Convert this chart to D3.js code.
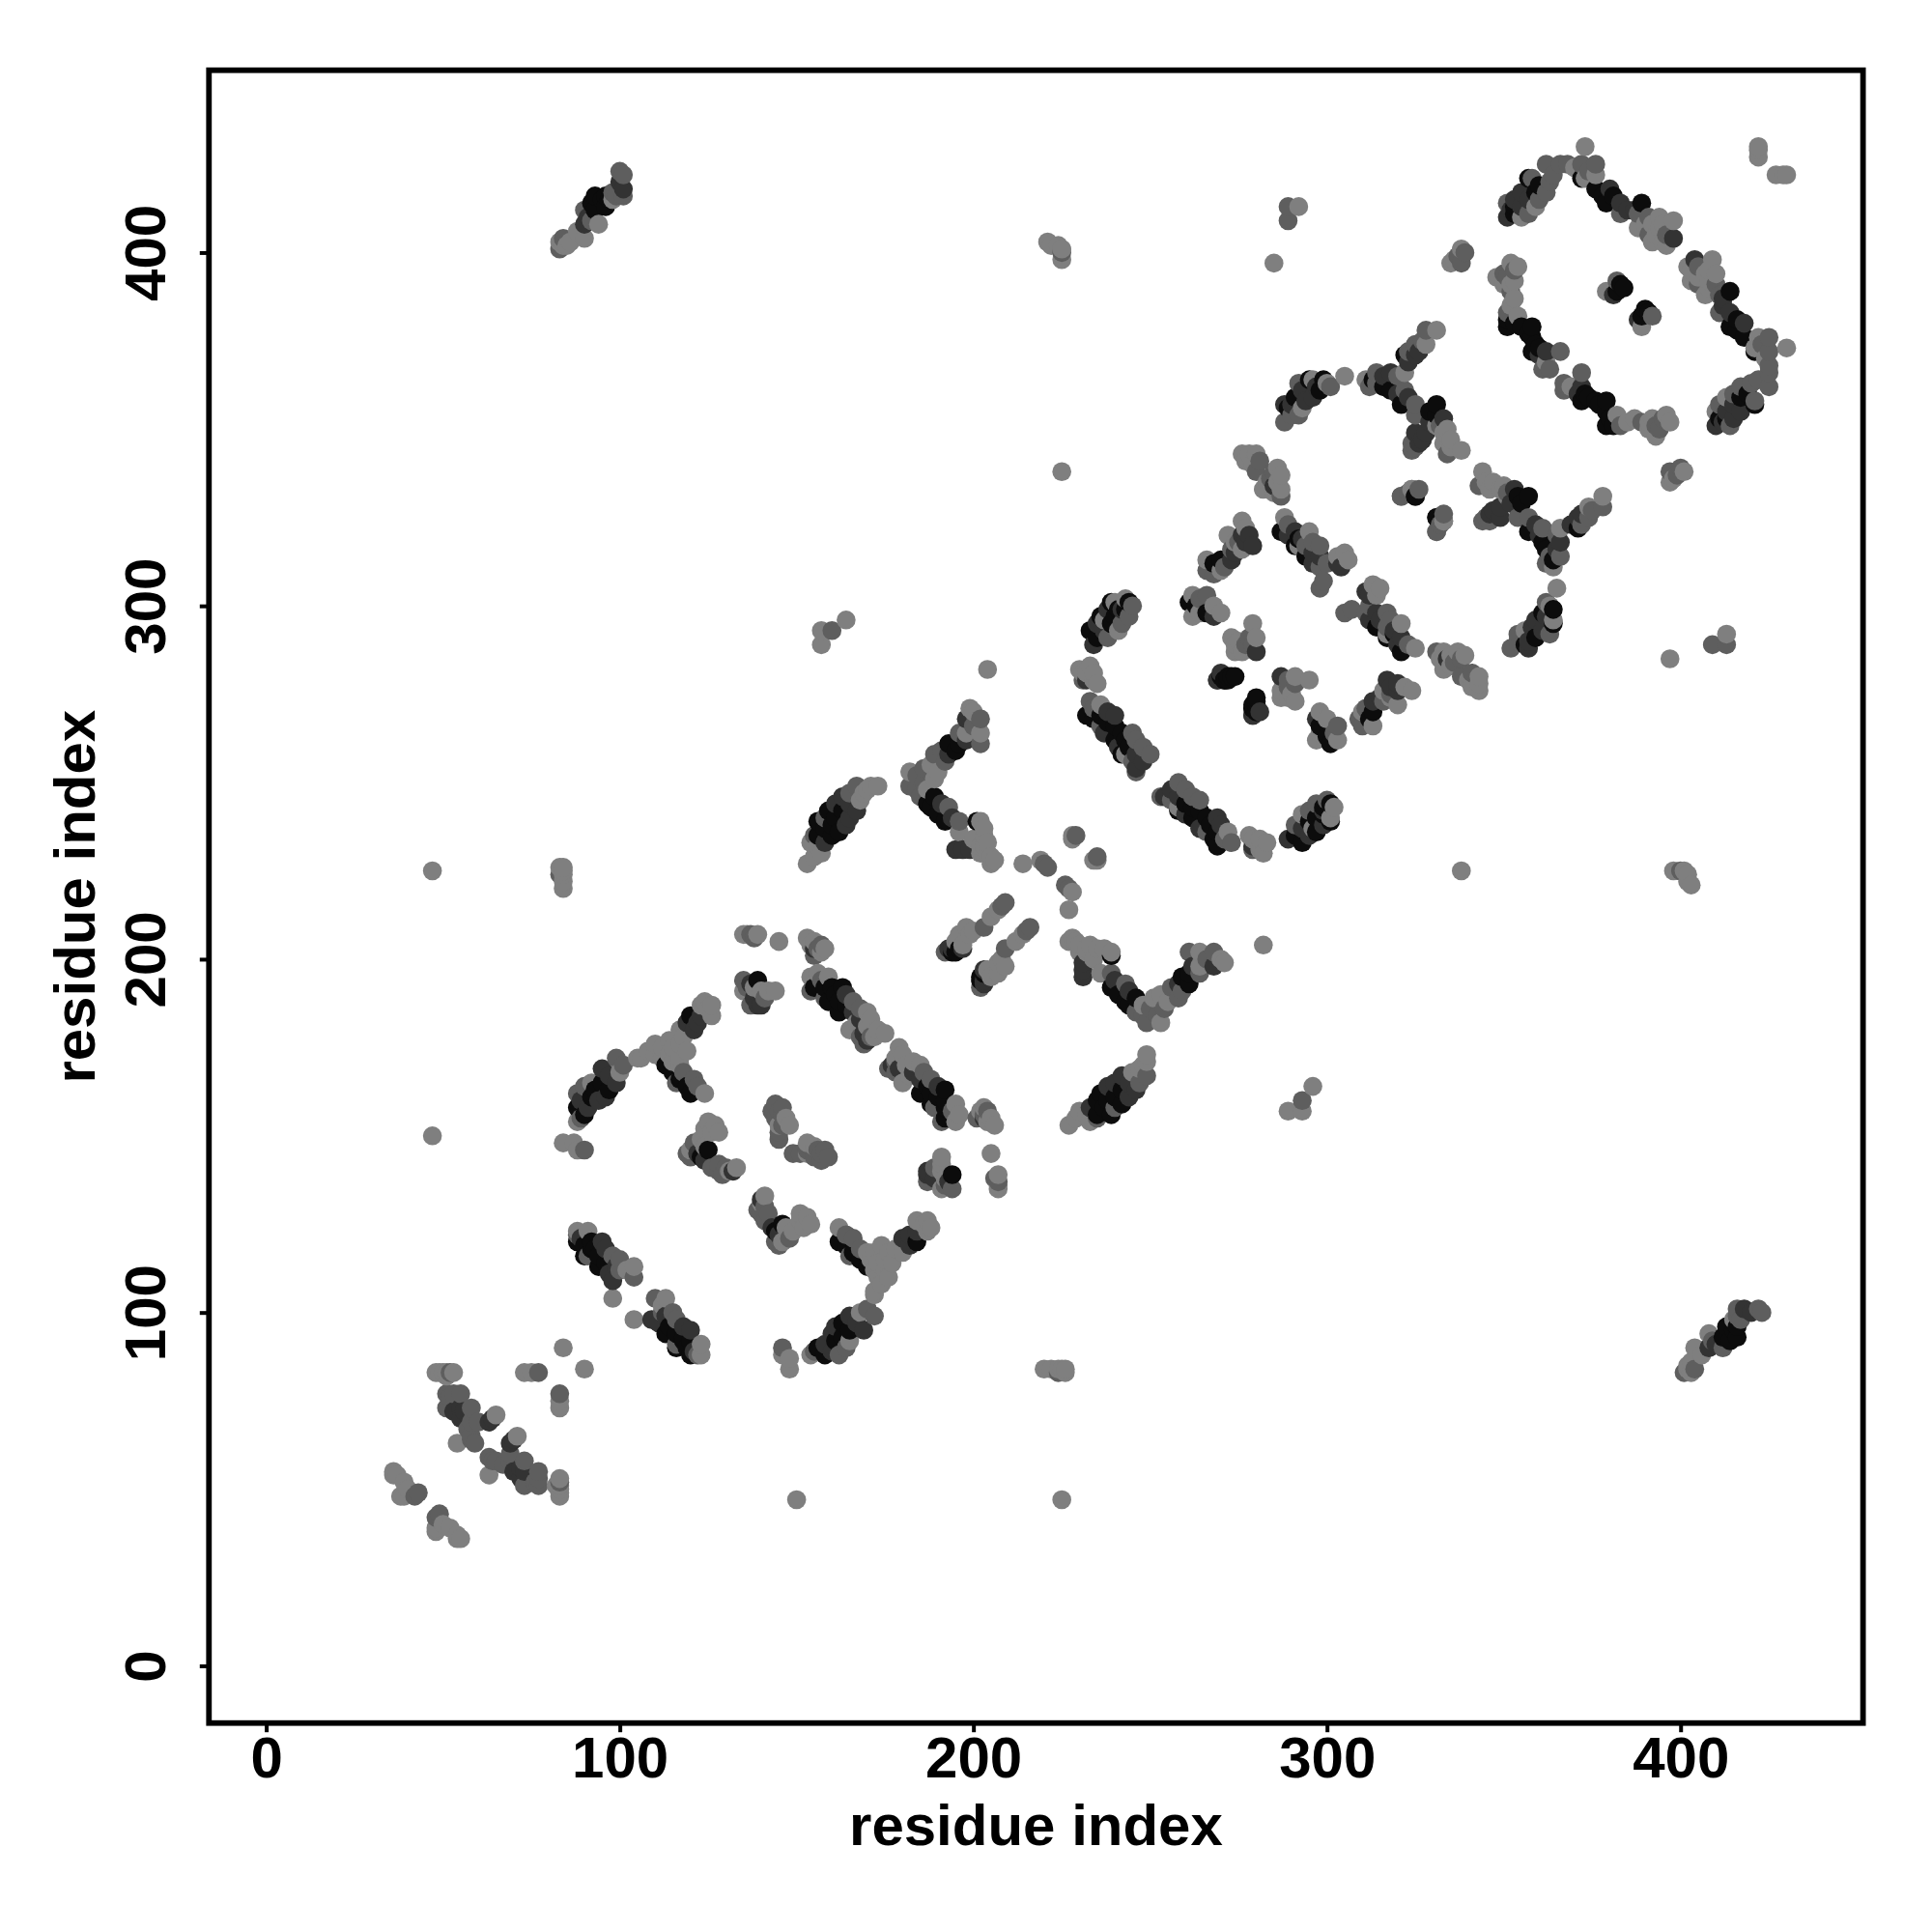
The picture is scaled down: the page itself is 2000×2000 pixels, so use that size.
<!DOCTYPE html>
<html><head><meta charset="utf-8">
<script src="https://cdnjs.cloudflare.com/ajax/libs/d3/7.8.5/d3.min.js"></script>
<style>html,body{margin:0;padding:0;background:#fff}svg{display:block}</style>
</head><body><div id="chart"></div>
<script>
// Contacts read from the upper triangle: [residue i, residue j, strength 1..4]. The map is symmetric.
const isolated=[[47,225,1],[47,150,1],[83,226,1],[84,226,1],[84,225,1],[84,224,1],[84,222,1],[84,220,1],[83,224,2],[221,403,1],[222,402,1],[224,402,1],[225,401,1],[225,400,2],[225,398,1],[289,413,2],[292,413,1],[289,409,2],[285,397,1],[225,338,1],[157,293,1],[160,293,2],[164,296,1],[157,289,1],[204,282,1],[422,429,1],[422,427,1],[422,430,1]];
const farCorner=[[100,423,2],[100,420,3],[101,416,2],[97,415,4],[96,413,4],[93,416,4],[96,416,4],[93,412,4],[90,412,2],[90,408,3],[94,408,1],[90,404,1],[84,404,2],[84,402,1],[83,401,2],[98,415,1],[85,402,1],[86,403,1],[83,403,1],[91,410,3],[92,414,4],[95,415,4],[98,417,2],[99,416,2],[101,418,3],[101,422,2],[92,409,2],[88,406,1]];
const clusterA=[[36,55,1],[39,52,1],[38,48,1],[39,48,1],[43,49,2],[48,83,1],[49,83,1],[51,83,1],[52,83,2],[51,77,2],[55,77,2],[51,73,2],[55,73,3],[55,70,3],[58,73,2],[58,69,2],[58,65,2],[58,64,2],[54,63,1],[63,69,3],[65,71,1],[73,83,1],[77,83,2],[84,90,1],[36,54,1],[37,54,1],[40,50,1],[42,48,2],[50,83,1],[53,83,1],[75,83,1],[51,82,1],[52,76,2],[53,77,2],[53,72,3],[56,72,3],[57,67,2],[60,69,2],[64,70,3],[59,63,2]];
const strandB=[[88,123,1],[91,123,1],[88,122,2],[88,120,4],[92,120,4],[95,120,3],[90,116,4],[91,116,2],[94,116,4],[94,113,4],[98,116,2],[99,113,3],[98,109,3],[104,113,1],[104,110,2],[98,104,1],[89,121,3],[90,119,4],[93,118,4],[96,118,3],[92,118,4],[96,114,4],[97,111,3],[100,112,2],[100,115,2],[102,112,1]];
const strandC=[[88,154,1],[88,158,4],[88,162,2],[91,158,3],[92,161,4],[92,165,1],[95,165,4],[96,161,3],[95,169,3],[99,165,3],[100,168,1],[99,172,2],[105,172,1],[106,172,1],[110,176,1],[110,173,1],[114,177,1],[114,173,1],[113,170,4],[117,176,1],[117,172,1],[117,170,1],[117,166,4],[116,165,2],[121,166,2],[120,162,4],[124,162,1],[117,180,1],[121,180,3],[120,184,4],[124,188,1],[126,187,1],[126,184,1],[123,184,3],[84,148,1],[87,148,1],[90,146,2],[88,146,1],[89,160,3],[90,156,4],[93,163,4],[94,160,3],[97,163,4],[97,167,3],[101,170,2],[90,164,2],[89,155,2],[108,174,1],[112,172,1],[112,175,1],[115,171,1],[115,168,4],[118,168,2],[119,164,4],[122,164,2],[118,178,1],[119,182,3],[122,182,3],[125,186,1],[123,187,1],[115,175,1],[119,174,1]];
const clusterD=[[135,207,1],[139,207,1],[137,207,2],[145,205,1],[153,206,1],[154,204,1],[157,204,2],[157,202,1],[155,203,3],[135,194,2],[139,194,4],[135,191,1],[140,191,1],[140,187,3],[144,191,1],[139,187,3],[137,187,2],[136,192,2],[137,193,3],[138,189,3],[141,189,2],[142,191,1],[138,192,1],[136,207,1],[138,206,2],[155,205,1],[156,203,2],[155,201,2],[158,203,1]];
const strandE=[[154,195,1],[156,196,1],[159,195,1],[155,192,4],[160,192,4],[163,192,4],[154,191,2],[158,189,2],[159,188,4],[162,188,4],[162,185,4],[166,188,2],[166,185,3],[170,185,1],[165,180,1],[170,181,1],[169,179,3],[173,180,1],[169,176,2],[172,178,1],[157,194,2],[158,192,4],[161,190,4],[164,190,3],[164,187,4],[168,186,2],[168,183,3],[167,182,1],[171,183,1],[171,178,2],[168,178,2],[175,179,1],[170,177,3]];
const clusterF=[[144,159,2],[146,158,2],[144,155,2],[147,155,1],[145,151,2],[143,157,2],[145,153,1],[145,157,2],[146,153,2],[148,153,1],[146,156,2],[145,149,2]];
const clusterG=[[125,154,1],[128,151,1],[126,151,1],[123,149,1],[120,146,1],[125,146,4],[123,144,4],[126,141,2],[130,141,2],[133,141,1],[120,144,2],[132,140,3],[128,140,2],[124,152,1],[127,153,1],[121,148,2],[122,145,3],[124,143,3],[128,142,2],[131,140,1],[119,145,2],[124,147,1],[129,139,2]];
const strandH=[[153,227,1],[157,230,1],[156,232,1],[155,235,2],[156,235,4],[160,235,4],[156,239,4],[160,238,4],[164,238,3],[159,242,4],[163,242,4],[167,242,3],[163,246,3],[168,245,1],[167,249,2],[171,249,1],[173,249,1],[158,240,2],[154,233,1],[158,233,3],[158,237,4],[161,240,4],[162,236,4],[165,240,3],[161,244,3],[165,244,3],[165,247,2],[169,247,1],[155,229,1],[170,248,1]];
const strandI=[[199,271,1],[198,268,3],[202,268,2],[202,264,1],[198,264,1],[202,261,2],[196,264,2],[193,261,4],[196,261,4],[193,258,3],[189,258,2],[190,253,1],[186,254,2],[182,253,1],[182,249,2],[186,250,2],[189,251,1],[185,246,2],[189,246,4],[188,243,4],[193,243,2],[192,239,4],[196,239,2],[196,236,1],[202,239,1],[203,235,1],[197,231,3],[195,231,3],[202,232,1],[202,230,1],[205,229,1],[205,227,1],[201,239,4],[200,270,1],[200,266,2],[198,262,3],[195,259,4],[191,259,2],[192,256,2],[188,255,1],[184,252,2],[184,248,2],[187,248,1],[187,244,4],[190,241,4],[191,244,3],[194,240,3],[200,234,1],[203,232,1],[199,231,3],[204,233,1],[204,230,1],[203,237,1],[206,228,1]];
const clusterJ=[[214,227,1],[220,227,2],[219,228,1],[228,235,1],[229,235,2],[208,215,2],[207,214,1],[203,209,2],[198,209,1],[195,205,1],[197,204,1],[192,202,2],[195,202,4],[194,202,4],[197,203,3],[196,207,1],[194,203,3],[193,203,3],[196,203,4],[199,207,1],[200,208,1],[221,226,2],[228,234,1],[205,212,1],[209,216,2]];
const strandK=[[233,273,2],[236,272,1],[232,269,4],[236,269,4],[240,269,3],[240,266,4],[236,266,2],[240,262,4],[243,262,4],[246,262,2],[242,258,4],[246,258,3],[250,258,2],[246,254,3],[246,253,2],[243,258,1],[230,282,1],[233,283,1],[234,279,1],[232,279,3],[231,281,1],[234,271,2],[234,268,4],[238,270,3],[238,267,4],[242,264,4],[244,260,4],[248,260,2],[248,256,3],[231,279,2],[232,281,1],[234,281,1],[235,278,1],[237,264,3],[245,256,2],[241,260,3],[245,264,2]];
const strandL=[[234,289,3],[233,293,4],[237,293,3],[241,293,1],[236,297,4],[237,296,1],[240,297,4],[244,297,2],[240,301,1],[239,301,4],[245,300,2],[244,301,4],[262,303,1],[266,303,2],[262,297,1],[266,298,4],[270,298,1],[261,301,4],[266,313,1],[266,310,2],[270,313,4],[270,310,1],[273,313,3],[273,316,2],[272,320,1],[276,324,1],[276,320,3],[278,320,3],[279,317,3],[276,316,1],[273,291,1],[279,295,1],[278,291,2],[280,291,1],[280,287,3],[274,287,1],[276,287,1],[269,279,3],[272,280,4],[273,280,4],[280,274,4],[279,272,4],[279,269,3],[235,291,4],[235,295,3],[239,295,4],[238,291,2],[242,299,3],[243,299,4],[242,295,2],[238,299,3],[241,299,4],[243,302,1],[263,300,4],[264,302,2],[264,298,1],[268,297,3],[268,300,1],[268,312,4],[268,309,2],[271,311,2],[274,315,3],[275,318,2],[277,318,3],[274,318,1],[277,322,1],[274,289,1],[275,290,1],[277,289,2],[279,289,2],[271,279,4],[270,280,4],[279,271,4],[281,270,3]];
const strandM=[[288,325,1],[287,321,4],[291,321,3],[295,321,1],[291,317,4],[292,317,1],[294,317,2],[298,317,2],[294,314,4],[298,314,3],[298,311,2],[298,305,2],[305,315,1],[303,314,1],[304,311,3],[276,343,1],[280,343,1],[278,343,1],[280,338,2],[282,333,1],[285,338,2],[287,337,1],[287,333,1],[287,331,2],[285,334,3],[289,323,2],[289,320,3],[293,319,3],[292,319,4],[296,318,2],[296,315,3],[296,312,3],[299,307,2],[300,312,2],[303,312,3],[306,313,1],[278,341,1],[281,341,2],[284,336,2],[286,335,1],[283,335,1],[285,332,1],[277,341,1],[279,340,1],[286,339,1]];
const strandN=[[288,357,3],[289,356,4],[288,352,2],[293,356,1],[291,359,4],[296,359,3],[292,363,2],[295,364,4],[296,364,1],[299,364,4],[300,363,1],[305,365,1],[311,364,1],[313,364,4],[314,366,2],[314,363,2],[318,366,3],[318,361,4],[322,366,1],[322,361,2],[321,357,4],[325,357,2],[325,354,2],[322,371,4],[325,371,3],[325,374,2],[328,374,1],[328,378,2],[331,378,1],[331,357,4],[331,354,4],[333,353,3],[334,350,1],[333,346,1],[338,344,1],[334,343,2],[325,349,3],[328,349,3],[324,346,2],[324,344,2],[326,346,3],[324,333,1],[321,331,2],[325,331,4],[331,325,4],[333,324,1],[331,321,2],[290,354,2],[290,357,3],[292,354,2],[294,358,3],[293,361,3],[297,362,3],[298,361,4],[301,362,2],[312,362,2],[316,365,3],[316,362,4],[320,360,3],[320,365,2],[323,359,3],[323,369,3],[323,372,2],[326,372,3],[327,375,2],[329,355,4],[329,352,3],[332,351,2],[331,351,1],[333,349,1],[335,347,1],[335,345,1],[327,347,3],[325,345,2],[323,332,2],[326,333,2]];
const strandO=[[373,430,1],[376,425,2],[372,425,2],[368,425,2],[366,425,2],[362,425,2],[372,421,4],[376,422,1],[358,421,2],[363,420,2],[359,417,4],[362,417,2],[355,417,3],[355,413,3],[359,413,1],[351,414,2],[351,410,3],[355,410,1],[376,418,4],[380,418,3],[379,414,4],[383,414,3],[383,411,2],[389,414,4],[388,411,2],[388,407,1],[391,410,2],[394,410,1],[398,409,1],[394,407,1],[398,404,3],[395,403,1],[391,405,2],[357,421,4],[353,413,4],[373,421,1],[338,401,1],[339,400,2],[335,397,1],[338,397,2],[352,397,1],[353,395,2],[348,393,1],[352,391,1],[352,389,2],[351,383,2],[354,382,1],[351,379,4],[355,379,4],[358,379,4],[358,376,4],[358,372,4],[362,372,3],[366,372,2],[362,369,1],[361,367,2],[379,389,1],[382,392,2],[384,390,4],[382,389,4],[353,415,3],[353,411,4],[357,415,3],[357,411,2],[352,412,3],[360,419,4],[360,415,2],[364,422,2],[370,424,1],[374,423,2],[378,416,4],[381,416,4],[385,412,3],[387,412,3],[390,408,1],[392,408,1],[393,405,1],[396,405,2],[395,408,1],[396,402,1],[392,403,1],[354,396,1],[350,394,2],[351,393,2],[353,392,1],[350,391,1],[353,387,1],[352,385,1],[351,381,4],[353,380,4],[357,377,4],[359,374,4],[360,371,3],[360,373,4],[363,367,2],[337,399,2],[336,398,1],[383,391,4],[381,388,3]];
const xTicks=[0,100,200,300,400];
const yTicks=[0,100,200,300,400];
const axisTitle="residue index";
const strengthLevels=[1,2,3,4];
const strengthGrays=["#7f7f7f","#5e5e5e","#333333","#0c0c0c"];

const W=2000,H=2000,L=216.3,R=1928.6,T=72.7,B=1783.7;
const svg=d3.select("#chart").append("svg").attr("width",W).attr("height",H);
const x=d3.scaleLinear().domain([-16.2,451.6]).range([L,R]);
const y=d3.scaleLinear().domain([-16.2,451.6]).range([B,T]);
const color=d3.scaleOrdinal().domain(strengthLevels).range(strengthGrays);
const upper=[...isolated,...farCorner,...clusterA,...strandB,...strandC,...clusterD,...strandE,...clusterF,...clusterG,...strandH,...strandI,...clusterJ,...strandK,...strandL,...strandM,...strandN,...strandO];
const all=[];
upper.forEach(d=>{all.push({x:d[0],y:d[1],s:d[2]});all.push({x:d[1],y:d[0],s:d[2]});});
const ordered=d3.sort(all,(a,b)=>a.x-b.x||a.y-b.y);
svg.append("g").selectAll("circle").data(ordered).join("circle")
 .attr("cx",d=>x(d.x)).attr("cy",d=>y(d.y)).attr("r",9.8).attr("fill",d=>color(d.s));
svg.append("rect").attr("x",L).attr("y",T).attr("width",R-L).attr("height",B-T).attr("fill","none").attr("stroke","#000").attr("stroke-width",5.8);
const font='"Liberation Sans",Arial,sans-serif';
const gx=svg.append("g").attr("transform",`translate(0,${B})`).call(d3.axisBottom(x).tickValues(xTicks).tickSize(9.5).tickPadding(0));
gx.select(".domain").remove();
gx.selectAll("line").attr("stroke","#000").attr("stroke-width",4);
gx.selectAll("text").attr("y",56.5).attr("dy",0).attr("fill","#000").attr("font-family",font).attr("font-weight","bold").attr("font-size",60);
const gy=svg.append("g").attr("transform",`translate(${L},0)`).call(d3.axisLeft(y).tickValues(yTicks).tickSize(9.5).tickPadding(0));
gy.select(".domain").remove();
gy.selectAll("line").attr("stroke","#000").attr("stroke-width",4);
gy.selectAll("text").attr("x",0).attr("y",0).attr("dy",0).attr("text-anchor","middle").attr("fill","#000").attr("font-family",font).attr("font-weight","bold").attr("font-size",60)
 .attr("transform","translate(-45,0) rotate(-90)");
svg.append("text").attr("x",(L+R)/2).attr("y",1910).attr("text-anchor","middle").attr("font-family",font).attr("font-weight","bold").attr("font-size",60).text(axisTitle);
svg.append("text").attr("transform",`translate(98,${(T+B)/2}) rotate(-90)`).attr("text-anchor","middle").attr("font-family",font).attr("font-weight","bold").attr("font-size",60).text(axisTitle);
</script></body></html>
